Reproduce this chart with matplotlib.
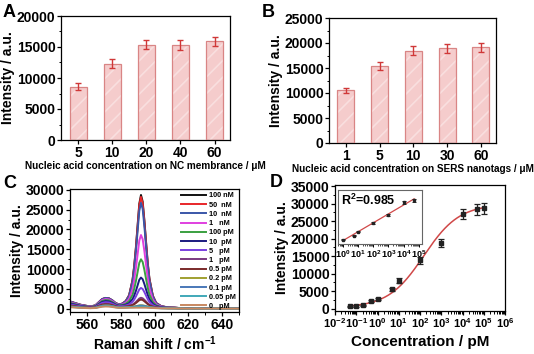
import numpy as np
import matplotlib
matplotlib.use("Agg")
import matplotlib.pyplot as plt
from matplotlib.ticker import MultipleLocator, AutoMinorLocator, LogLocator, NullFormatter

plt.rcParams['font.family'] = ['Liberation Sans', 'DejaVu Sans']
plt.rcParams['font.weight'] = 'bold'
plt.rcParams['axes.labelweight'] = 'bold'
plt.rcParams['mathtext.fontset'] = 'custom'
plt.rcParams['mathtext.rm'] = 'Liberation Sans:bold'
plt.rcParams['mathtext.bf'] = 'Liberation Sans:bold'
plt.rcParams['mathtext.default'] = 'bf'
plt.rcParams['axes.unicode_minus'] = False
plt.rcParams['axes.linewidth'] = 0.9
plt.rcParams['hatch.linewidth'] = 1.2

# panel A / B data
conc_nc = ['5', '10', '20', '40', '60']
int_nc = [8600, 12300, 15400, 15300, 15900]
err_nc = [550, 700, 750, 750, 750]

conc_tags = ['1', '5', '10', '30', '60']
int_tags = [10600, 15500, 18500, 19000, 19200]
err_tags = [500, 800, 900, 900, 900]

# panel C: spectra
shift = [550, 553, 556, 559, 562, 565, 567, 569, 571, 573, 575, 577, 579, 581, 583,
         585, 587, 588, 589, 590, 591, 592, 593, 594, 595, 596, 597, 599, 601, 604,
         608, 612, 616, 620, 625, 630, 635, 640, 645, 650]
peak_profile = [0, 0, 0, 0, 0, 0, 0, 0, 0, 0, 0, 0, 0, 0.01, 0.03,
                0.08, 0.22, 0.35, 0.52, 0.72, 0.92, 1.0, 0.94, 0.77, 0.57, 0.38, 0.24, 0.09, 0.03, 0.008,
                0, 0, 0, 0, 0, 0, 0, 0, 0, 0]
background = [1800, 1400, 1000, 750, 550, 800, 1600, 2400, 2700, 2600, 2100, 1400, 1050, 1000, 1100,
              1200, 1200, 1200, 1200, 1200, 1200, 1200, 1200, 1200, 1200, 1100, 1000, 800, 600, 400,
              300, 250, 100, 0, 150, 0, 150, 100, 50, 0]
spec_labels = ['100 nM', '50  nM', '10  nM', '1   nM', '100 pM', '10  pM', '5   pM',
               '1   pM', '0.5 pM', '0.2 pM', '0.1 pM', '0.05 pM', '0   pM']
peak_heights = [27500, 27000, 25500, 17500, 11500, 7000, 4500, 2200, 1800, 500, 400, 200, 0]
bg_scale = [1, 1, 1, 0.9, 0.8, 0.7, 0.6, 0.45, 0.4, 0.3, 0.3, 0.25, 0.2]
spec_colors = ['#111111', '#e8262a', '#3a56a8', '#e040e0', '#3aa040', '#1a1a80', '#7a40e0',
               '#7a3a80', '#7a2a2a', '#a0a030', '#4a78b8', '#40a8b8', '#c88860']

# panel D: calibration
conc_pm = [0.05, 0.1, 0.2, 0.5, 1, 5, 10, 100, 1000, 10000, 50000, 100000]
int_pm = [600, 700, 900, 2200, 2800, 5500, 8000, 13800, 18800, 27000, 28300, 28600]
err_pm = [250, 250, 250, 300, 300, 400, 800, 1000, 1200, 1500, 1500, 1500]
# logistic fit parameters (A1, A2, x0, p)
fit_a1, fit_a2, fit_x0, fit_p = 300, 29800, 150, 0.52
inset_idx = [4, 5, 6, 7, 8, 9, 10]

W, H = 534, 354
fig = plt.figure(figsize=(W / 100, H / 100), dpi=100)


def px_axes(x0, y0, x1, y1):
    return fig.add_axes([x0 / W, 1 - y1 / H, (x1 - x0) / W, (y1 - y0) / H])


def style(ax, size=10):
    ax.tick_params(direction='out', labelsize=size, width=0.9, length=3, pad=1)
    ax.tick_params(which='minor', direction='out', width=0.7, length=1.8)
    for lab in ax.get_xticklabels() + ax.get_yticklabels():
        lab.set_fontweight('bold')


def bar_panel(ax, cats, vals, errs, ymax, step, xlabel):
    pos = np.arange(len(cats))
    ax.bar(pos, vals, width=0.5, color='#f5cccc', edgecolor='#f9dfdf', hatch='//',
           linewidth=0, zorder=2)
    ax.bar(pos, vals, width=0.5, color='none', edgecolor='#d98585', linewidth=0.9, zorder=4)
    ax.errorbar(pos, vals, yerr=errs, fmt='none', ecolor='#d03838', elinewidth=1,
                capsize=2, capthick=1, zorder=5)
    ax.set_xlim(-0.5, 4.45)
    ax.set_ylim(0, ymax)
    ax.set_xticks(pos)
    ax.set_xticklabels(cats)
    ax.yaxis.set_major_locator(MultipleLocator(step))
    ax.yaxis.set_minor_locator(AutoMinorLocator(2))
    ax.set_ylabel('Intensity / a.u.', fontsize=10, labelpad=1)
    ax.set_xlabel(xlabel, fontsize=7.2, labelpad=1)
    style(ax)


axA = px_axes(61, 16, 230, 140)
bar_panel(axA, conc_nc, int_nc, err_nc, 20000, 5000,
          'Nucleic acid concentration on NC membrance / \u03bcM')

axB = px_axes(329, 18, 496, 143)
bar_panel(axB, conc_tags, int_tags, err_tags, 25000, 5000,
          'Nucleic acid concentration on SERS nanotags / \u03bcM')

# C
axC = px_axes(70, 189, 239, 312)
prof = np.array(peak_profile)
bg = np.array(background)
for lab, h, s, c in zip(spec_labels, peak_heights, bg_scale, spec_colors):
    axC.plot(shift, h * prof + s * bg, color=c, lw=1.4, label=lab)
axC.set_xlim(550, 650)
axC.set_ylim(-850, 30200)
axC.xaxis.set_major_locator(MultipleLocator(20))
axC.xaxis.set_minor_locator(AutoMinorLocator(2))
axC.yaxis.set_major_locator(MultipleLocator(5000))
axC.yaxis.set_minor_locator(AutoMinorLocator(2))
axC.set_ylabel('Intensity / a.u.', fontsize=10, labelpad=1)
axC.set_xlabel('Raman shift / cm$^{-1}$', fontsize=10, labelpad=2)
style(axC)
leg = axC.legend(loc='upper right', frameon=False, fontsize=5.3, handlelength=3.4,
                 labelspacing=0.28, borderaxespad=0.05, handletextpad=0.4)
for t in leg.get_texts():
    t.set_fontweight('bold')

# D
axD = px_axes(335, 185, 505, 311)
xfit = np.logspace(np.log10(0.05), 5, 300)
yfit = fit_a2 + (fit_a1 - fit_a2) / (1 + (xfit / fit_x0) ** fit_p)
axD.plot(xfit, yfit, color='#d04848', lw=1.1, zorder=2)
axD.errorbar(conc_pm, int_pm, yerr=err_pm, fmt='s', ms=2.5, color='#222222',
             ecolor='#222222', elinewidth=0.9, capsize=2, capthick=0.9, zorder=3)
axD.set_xscale('log')
axD.set_xlim(1e-2, 1e6)
axD.set_ylim(-700, 35300)
axD.xaxis.set_major_locator(LogLocator(base=10, numticks=20))
axD.xaxis.set_minor_locator(LogLocator(base=10, subs=np.arange(2, 10), numticks=20))
axD.xaxis.set_minor_formatter(NullFormatter())
axD.yaxis.set_major_locator(MultipleLocator(5000))
axD.yaxis.set_minor_locator(AutoMinorLocator(2))
axD.set_ylabel('Intensity / a.u.', fontsize=10, labelpad=1)
axD.set_xlabel('Concentration / pM', fontsize=11, labelpad=3)
style(axD, 10)
axD.tick_params(axis='x', labelsize=8)

# inset
axI = px_axes(338, 190, 422, 244)
xi = np.array(conc_pm)[inset_idx]
yi = np.array(int_pm)[inset_idx]
ei = np.array(err_pm)[inset_idx] * 0.6
coef = np.polyfit(np.log10(xi), yi, 1)
xl = np.logspace(0, np.log10(xi.max()), 50)
axI.plot(xl, np.polyval(coef, np.log10(xl)), color='#d04848', lw=0.9, zorder=2)
axI.errorbar(xi, yi, yerr=ei, fmt='s', ms=1.8, color='#222222', ecolor='#222222',
             elinewidth=0.7, capsize=1.2, capthick=0.7, zorder=3)
axI.set_xscale('log')
axI.set_xlim(10 ** -0.33, 10 ** 5.22)
axI.set_ylim(0, 35000)
axI.set_yticks([])
axI.xaxis.set_major_locator(LogLocator(base=10, numticks=10))
axI.xaxis.set_minor_locator(LogLocator(base=10, subs=np.arange(2, 10), numticks=10))
axI.xaxis.set_minor_formatter(NullFormatter())
axI.tick_params(labelsize=6.5, length=2, width=0.7, pad=1)
axI.tick_params(which='minor', length=1.2, width=0.5)
for sp in axI.spines.values():
    sp.set_color('#666666')
    sp.set_linewidth(0.8)
axI.text(0.04, 0.95, 'R$^2$=0.985', transform=axI.transAxes, fontsize=9,
         fontweight='bold', va='top', ha='left')

# panel letters
for x, y, s in [(3, 4, 'A'), (262, 4, 'B'), (3, 175, 'C'), (270, 174, 'D')]:
    fig.text(x / W, 1 - y / H, s, fontsize=13, fontweight='bold', va='top', ha='left')

fig.savefig('out.png', dpi=100)
